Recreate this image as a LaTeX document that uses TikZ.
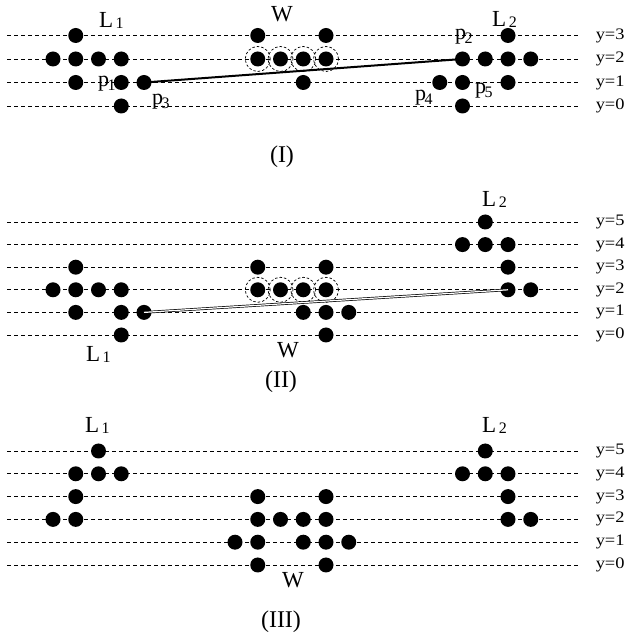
\documentclass[tikz,border=0pt]{standalone}
\usepackage{fontspec}
\setmainfont{Liberation Serif}
\newfontfamily\ylabfont[FakeStretch=1.15]{Liberation Serif}
\newcommand\Lab[2]{#1\hspace{2.5pt}\raisebox{-1pt}{\fontsize{16}{16}\selectfont #2}}
\newcommand\Plab[2]{#1\hspace{-1.5pt}\raisebox{-4pt}{\fontsize{16}{16}\selectfont #2}}
\begin{document}
\begin{tikzpicture}[x=1pt,y=1pt,
  gridline/.style={dash pattern=on 4pt off 3pt, line width=0.9pt},
  dot/.style={circle, fill=black, inner sep=0pt, minimum size=15pt},
  ring/.style={circle, draw, dash pattern=on 2.5pt off 2pt, line width=0.7pt, inner sep=0pt, minimum size=25pt},
  biglab/.style={font=\fontsize{23}{23}\selectfont, inner sep=0pt, anchor=base west},
  plab/.style={font=\fontsize{22}{22}\selectfont, inner sep=0pt, anchor=base west},
  ylab/.style={font=\ylabfont\fontsize{16}{16}\selectfont, inner sep=0pt, anchor=west},
  ptitle/.style={font=\fontsize{24}{24}\selectfont, inner sep=0pt}]
\useasboundingbox (0,0) rectangle (630,638);

% ---------- Panel I ----------
\begin{scope}[shift={(53pt,532pt)}, x=22.75pt, y=23.5pt]
  \foreach \r in {0,...,3} {
    \coordinate (I-l\r) at (-2.02,\r);
    \coordinate (I-e\r) at (23.08,\r);
    \draw[gridline] (I-l\r) -- (I-e\r);
    \node[ylab] (I-y\r) at (23.85,\r) {y=\r};
  }
  \foreach \k/\r in {1/3, 0/2,1/2,2/2,3/2, 1/1,3/1,4/1, 3/0,
                     9/3,12/3, 9/2,10/2,11/2,12/2, 11/1,
                     20/3, 18/2,19/2,20/2,21/2, 17/1,18/1,20/1, 18/0}
    \node[dot] (I-\k-\r) at (\k,\r) {};
  \foreach \k in {9,10,11,12}
    \node[ring] (I-c\k) at (I-\k-2) {};
  \draw[line width=2pt] (I-4-1.center) -- (I-18-2.center);
\end{scope}
\node[biglab] (IL1) at (99,610) {\Lab{L}{1}};
\node[biglab] (IW) at (271,616) {W};
\node[biglab] (IL2) at (492,611) {\Lab{L}{2}};
\node[plab] (Ip1) at (98,551) {\Plab{p}{1}};
\node[plab] (Ip3) at (152,533) {\Plab{p}{3}};
\node[plab] (Ip2) at (455,598) {\Plab{p}{2}};
\node[plab] (Ip4) at (415,537) {\Plab{p}{4}};
\node[plab] (Ip5) at (475,544) {\Plab{p}{5}};
\node[ptitle] (IT) at (282,481) {(I)};

% ---------- Panel II ----------
\begin{scope}[shift={(53pt,303pt)}, x=22.75pt, y=22.6pt]
  \foreach \r in {0,...,5} {
    \coordinate (II-l\r) at (-2.02,\r);
    \coordinate (II-e\r) at (23.08,\r);
    \draw[gridline] (II-l\r) -- (II-e\r);
    \node[ylab] (II-y\r) at (23.85,\r) {y=\r};
  }
  \foreach \k/\r in {1/3, 0/2,1/2,2/2,3/2, 1/1,3/1,4/1, 3/0,
                     9/3,12/3, 9/2,10/2,11/2,12/2, 11/1,12/1,13/1, 12/0,
                     19/5, 18/4,19/4,20/4, 20/3, 20/2,21/2}
    \node[dot] (II-\k-\r) at (\k,\r) {};
  \foreach \k in {9,10,11,12}
    \node[ring] (II-c\k) at (II-\k-2) {};
  \draw[double, double distance=1.2pt, line width=0.7pt] (II-4-1.center) -- (II-20-2.center);
\end{scope}
\node[biglab] (IIL1) at (86,276) {\Lab{L}{1}};
\node[biglab] (IIW) at (277,280) {W};
\node[biglab] (IIL2) at (482,431) {\Lab{L}{2}};
\node[ptitle] (IIT) at (281,256) {(II)};

% ---------- Panel III ----------
\begin{scope}[shift={(53pt,73pt)}, x=22.75pt, y=22.8pt]
  \foreach \r in {0,...,5} {
    \coordinate (III-l\r) at (-2.02,\r);
    \coordinate (III-e\r) at (23.08,\r);
    \draw[gridline] (III-l\r) -- (III-e\r);
    \node[ylab] (III-y\r) at (23.85,\r) {y=\r};
  }
  \foreach \k/\r in {2/5, 1/4,2/4,3/4, 1/3, 0/2,1/2,
                     9/3,12/3, 9/2,10/2,11/2,12/2, 8/1,9/1,11/1,12/1,13/1, 9/0,12/0,
                     19/5, 18/4,19/4,20/4, 20/3, 20/2,21/2}
    \node[dot] (III-\k-\r) at (\k,\r) {};
\end{scope}
\node[biglab] (IIIL1) at (85,205) {\Lab{L}{1}};
\node[biglab] (IIIW) at (282,50) {W};
\node[biglab] (IIIL2) at (482,205) {\Lab{L}{2}};
\node[ptitle] (IIIT) at (281,16) {(III)};
\end{tikzpicture}
\end{document}
